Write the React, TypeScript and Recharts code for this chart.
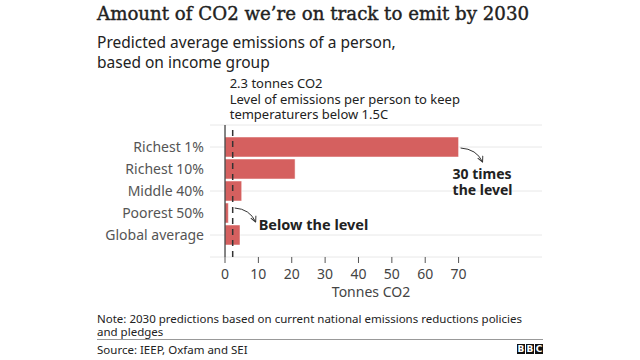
import { BarChart, Bar, XAxis, YAxis, CartesianGrid, ReferenceLine, ReferenceDot } from "recharts";

const groups = ["Richest 1%", "Richest 10%", "Middle 40%", "Poorest 50%", "Global average"];
const emissions = [70, 21, 5, 1, 4.5];
const xTicks = [0, 10, 20, 30, 40, 50, 60, 70];
const target = 2.3;

const data = groups.map((g, i) => ({ group: g, value: emissions[i] }));

const sans = "'Noto Sans', 'Open Sans', sans-serif";
const barColor = "#d5605f";

function TargetLabel(props: any) {
  const { viewBox } = props;
  const x = viewBox.x - 3;
  const y = viewBox.y;
  return (
    <text x={x} fontFamily={sans} fontSize={13} fill="#222">
      <tspan x={x} y={y - 37}>2.3 tonnes CO2</tspan>
      <tspan x={x} y={y - 21}>Level of emissions per person to keep</tspan>
      <tspan x={x} y={y - 6}>temperaturers below 1.5C</tspan>
    </text>
  );
}

function Arrow({ d }: { d: string }) {
  return <path d={d} fill="none" stroke="#333" strokeWidth={1} markerEnd="url(#arrowHead)" />;
}

function TopNote(props: any) {
  const { cx, cy } = props;
  return (
    <g>
      <Arrow d={`M ${cx + 2} ${cy + 1} Q ${cx + 18} ${cy + 2} ${cx + 24} ${cy + 15}`} />
      <text x={cx - 6} fontFamily={sans} fontSize={14} fontWeight={700} fill="#222">
        <tspan x={cx - 6} y={cy + 32}>30 times</tspan>
        <tspan x={cx - 6} y={cy + 48}>the level</tspan>
      </text>
    </g>
  );
}

function LowNote(props: any) {
  const { cx, cy } = props;
  return (
    <g>
      <Arrow d={`M ${cx + 2} ${cy - 5} Q ${cx + 17} ${cy - 4} ${cx + 23} ${cy + 9}`} />
      <text x={cx + 26} y={cy + 17} fontFamily={sans} fontSize={14.5} fontWeight={700} fill="#222">
        Below the level
      </text>
    </g>
  );
}

export default function App() {
  return (
    <div style={{ position: "fixed", left: 0, top: 0, width: 640, height: 360, background: "#fff", fontFamily: sans, overflow: "hidden" }}>
      <div style={{ position: "absolute", left: 97, top: 3, fontFamily: "'DejaVu Serif', serif", fontSize: 18.2, color: "#222", whiteSpace: "nowrap", WebkitTextStroke: "0.4px #222" }}>
        Amount of CO2 we’re on track to emit by 2030
      </div>
      <div style={{ position: "absolute", left: 97, top: 32, fontSize: 15.5, lineHeight: "20px", color: "#222" }}>
        Predicted average emissions of a person,
        <br />
        based on income group
      </div>

      <div style={{ position: "absolute", left: 0, top: 0 }}>
        <BarChart
          width={640}
          height={360}
          data={data}
          layout="vertical"
          barCategoryGap={1}
          margin={{ top: 125, right: 98, bottom: 58, left: 100 }}
        >
          <defs>
            <marker id="arrowHead" viewBox="0 0 10 10" refX="9" refY="5" markerWidth="7" markerHeight="7" orient="auto">
              <path d="M 1 1 L 9 5 L 1 9" fill="none" stroke="#333" strokeWidth={1.4} />
            </marker>
          </defs>
          <CartesianGrid horizontal vertical={false} stroke="#e8e8e8" />
          <XAxis
            type="number"
            domain={[-4.5, 95]}
            ticks={xTicks}
            axisLine={false}
            tickLine={{ stroke: "#555" }}
            tickSize={6}
            tick={{ fontSize: 14, fill: "#444", fontFamily: sans }}
            tickMargin={6}
            label={{ value: "Tonnes CO2", position: "insideBottom", offset: 5, fontSize: 14, fill: "#444", fontFamily: sans, dx: -5 }}
            height={45}
          />
          <YAxis
            type="category"
            dataKey="group"
            width={110}
            axisLine={false}
            tickLine={false}
            tickSize={0}
            tickMargin={6}
            padding={{ top: 11, bottom: 11 }}
            tick={{ fontSize: 14, fill: "#555", fontFamily: sans }}
          />
          <Bar dataKey="value" fill={barColor} stroke="#fff" strokeWidth={0.5} barSize={20} isAnimationActive={false} />
          <ReferenceLine x={0} stroke="#333" strokeWidth={1.2} />
          <ReferenceLine x={target} stroke="#333" strokeWidth={1.5} strokeDasharray="6 5" label={<TargetLabel />} />
          <ReferenceDot x={emissions[0]} y={groups[0]} r={0} ifOverflow="visible" shape={<TopNote />} />
          <ReferenceDot x={target} y={groups[3]} r={0} ifOverflow="visible" shape={<LowNote />} />
        </BarChart>
      </div>

      <div style={{ position: "absolute", left: 97, top: 312, fontSize: 11.5, lineHeight: "13px", color: "#222", width: 440 }}>
        Note: 2030 predictions based on current national emissions reductions policies
        <br />
        and pledges
      </div>
      <div style={{ position: "absolute", left: 97, top: 339, width: 446, borderTop: "1.5px solid #999" }} />
      <div style={{ position: "absolute", left: 97, top: 342, fontSize: 11.5, color: "#222" }}>Source: IEEP, Oxfam and SEI</div>
      <div style={{ position: "absolute", left: 517, top: 344, display: "flex", gap: 1 }}>
        {["B", "B", "C"].map((c, i) => (
          <div key={i} style={{ width: 8, height: 10, background: "#111", color: "#fff", fontSize: 9, fontWeight: 700, lineHeight: "10px", textAlign: "center", fontFamily: "'DejaVu Sans', sans-serif" }}>
            {c}
          </div>
        ))}
      </div>
    </div>
  );
}
